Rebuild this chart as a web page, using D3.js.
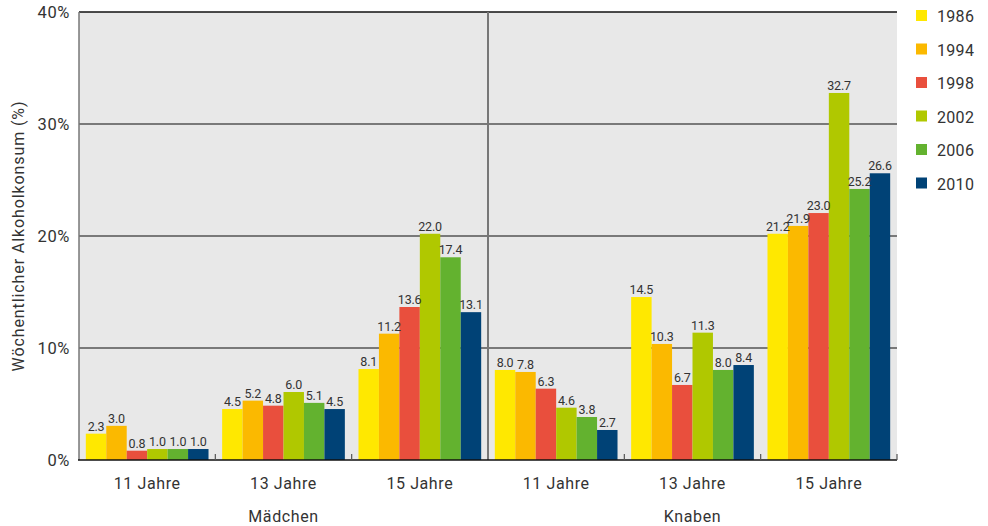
<!DOCTYPE html>
<html><head><meta charset="utf-8">
<script src="https://cdn.jsdelivr.net/npm/d3@7"></script>
<style>body{margin:0;background:#fff;} svg{display:block;} text{font-family:Roboto,"Liberation Sans",sans-serif;fill:#333;}</style>
</head><body>
<svg id="c" width="988" height="526"></svg>
<script>
const genders = ["Mädchen", "Knaben"];
const ages = ["11 Jahre", "13 Jahre", "15 Jahre"];
const years = ["1986", "1994", "1998", "2002", "2006", "2010"];
const colors = ["#ffe800", "#fbb900", "#e94f3d", "#b0c800", "#63b22f", "#004276"];
const yTicks = [0, 10, 20, 30, 40];
// printed value labels per group (order: Mädchen 11,13,15, Knaben 11,13,15)
const labels = [
  [2.3, 3.0, 0.8, 1.0, 1.0, 1.0],
  [4.5, 5.2, 4.8, 6.0, 5.1, 4.5],
  [8.1, 11.2, 13.6, 22.0, 17.4, 13.1],
  [8.0, 7.8, 6.3, 4.6, 3.8, 2.7],
  [14.5, 10.3, 6.7, 11.3, 8.0, 8.4],
  [21.2, 21.9, 23.0, 32.7, 25.2, 26.6]
];
// bar heights as drawn in the picture
const barValues = [
  [2.35, 3.05, 0.83, 0.98, 0.98, 0.98],
  [4.55, 5.3, 4.85, 6.07, 5.1, 4.55],
  [8.12, 11.28, 13.66, 20.2, 18.1, 13.2],
  [8.04, 7.86, 6.37, 4.67, 3.84, 2.68],
  [14.55, 10.36, 6.7, 11.37, 8.04, 8.48],
  [20.2, 20.9, 22.05, 32.77, 24.2, 25.6]
];

const svg = d3.select("#c");
const L = 79, R = 897, T = 12, B = 460;
const groups = [];
genders.forEach(g => ages.forEach(a => groups.push(g + "|" + a)));
const x0 = d3.scaleBand().domain(groups).range([L, R]).paddingInner(0.1).paddingOuter(0.05);
const xGroup = d3.scaleBand().domain(groups).range([L, R]);
const x1 = d3.scaleBand().domain(years).range([0, x0.bandwidth()]);
const y = d3.scaleLinear().domain([0, 40]).range([B, T]);
const color = d3.scaleOrdinal().domain(years).range(colors);

svg.append("rect").attr("x", L).attr("y", T).attr("width", R - L).attr("height", B - T).attr("fill", "#e8e8e8");

// gridlines
svg.append("g").selectAll("line").data(yTicks.filter(t => t > 0 && t < 40)).join("line")
  .attr("x1", L).attr("x2", R).attr("y1", d => y(d)).attr("y2", d => y(d))
  .attr("stroke", "#555").attr("stroke-width", 1.5);
// top line
svg.append("line").attr("x1", L).attr("x2", R).attr("y1", y(40)).attr("y2", y(40)).attr("stroke", "#111").attr("stroke-width", 1.5);

// bars
const gBars = svg.append("g");
groups.forEach((grp, gi) => {
  const gg = gBars.append("g").attr("transform", `translate(${x0(grp)},0)`);
  gg.selectAll("rect").data(years).join("rect")
    .attr("x", d => x1(d)).attr("width", x1.bandwidth())
    .attr("y", (d, i) => y(barValues[gi][i])).attr("height", (d, i) => B - y(barValues[gi][i]))
    .attr("fill", d => color(d));
  gg.selectAll("text").data(years).join("text")
    .attr("x", d => x1(d) + x1.bandwidth() / 2)
    .attr("y", (d, i) => y(barValues[gi][i]) - 3)
    .attr("text-anchor", "middle").attr("font-size", 12.5).attr("letter-spacing", -0.2)
    .text((d, i) => labels[gi][i].toFixed(1));
});

// divider between genders
const mid = xGroup(groups[3]);
svg.append("line").attr("x1", mid).attr("x2", mid).attr("y1", T).attr("y2", B).attr("stroke", "#777").attr("stroke-width", 2);
// left axis
svg.append("line").attr("x1", L).attr("x2", L).attr("y1", T).attr("y2", B).attr("stroke", "#777").attr("stroke-width", 1.5);
// bottom axis
svg.append("line").attr("x1", L - 1).attr("x2", R).attr("y1", B).attr("y2", B).attr("stroke", "#111").attr("stroke-width", 1.5);
// group ticks
const tickXs = groups.slice(1).map(g => xGroup(g)).filter(v => Math.abs(v - mid) > 1).concat([R]);
svg.append("g").selectAll("line").data(tickXs).join("line")
  .attr("x1", d => d).attr("x2", d => d).attr("y1", B).attr("y2", B - 6)
  .attr("stroke", "#555").attr("stroke-width", 1.2);

// y tick labels
svg.append("g").selectAll("text").data(yTicks).join("text")
  .attr("x", 70).attr("y", d => y(d) + 6).attr("text-anchor", "end").attr("font-size", 16.5).attr("letter-spacing", 0.6)
  .text(d => d + "%");
// y title
svg.append("text").attr("transform", `translate(24,${(T + B) / 2}) rotate(-90)`)
  .attr("text-anchor", "middle").attr("font-size", 16).attr("letter-spacing", 0.9).text("Wöchentlicher Alkoholkonsum (%)");

// category labels
svg.append("g").selectAll("text").data(groups).join("text")
  .attr("x", d => xGroup(d) + xGroup.bandwidth() / 2).attr("y", 489)
  .attr("text-anchor", "middle").attr("font-size", 16).attr("letter-spacing", 0.6).text(d => d.split("|")[1]);
svg.append("g").selectAll("text").data(genders).join("text")
  .attr("x", (d, i) => (xGroup(groups[i * 3]) + xGroup(groups[i * 3 + 2]) + xGroup.bandwidth()) / 2).attr("y", 522)
  .attr("text-anchor", "middle").attr("font-size", 16).attr("letter-spacing", 0.6).text(d => d);

// legend
const leg = svg.append("g").selectAll("g").data(years).join("g")
  .attr("transform", (d, i) => `translate(916,${16 + i * 33.5})`);
leg.append("rect").attr("x", 0).attr("y", -6).attr("width", 11).attr("height", 11).attr("fill", d => color(d));
leg.append("text").attr("x", 21).attr("y", 6).attr("font-size", 16).attr("letter-spacing", 0.3).text(d => d);
</script>
</body></html>
